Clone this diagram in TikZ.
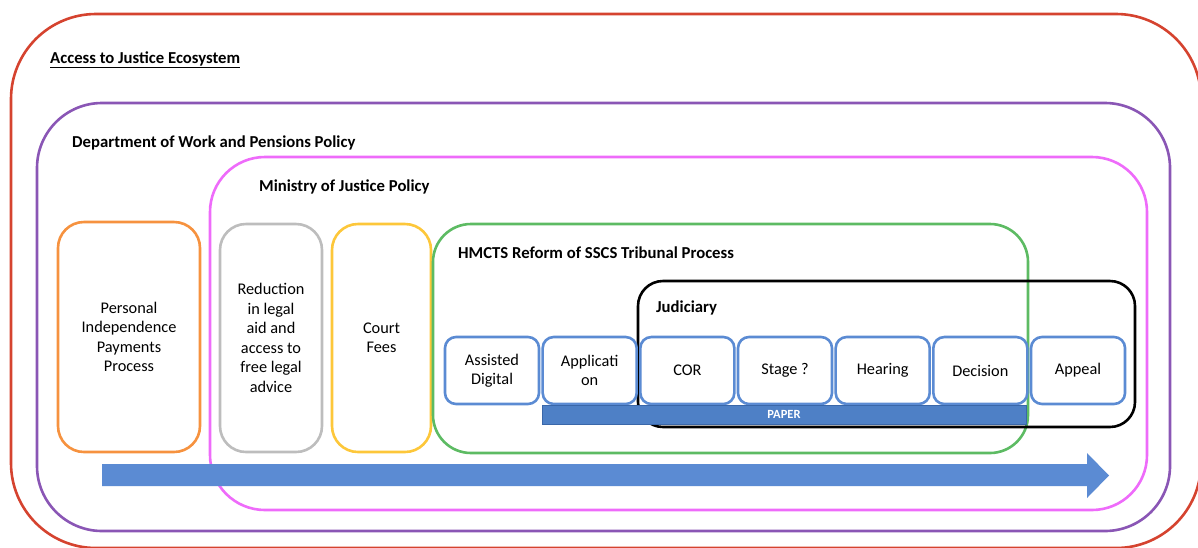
\documentclass[tikz,border=0pt]{standalone}
\usepackage{fontspec}
\setmainfont{Carlito}
\usetikzlibrary{positioning}
\definecolor{ecored}{HTML}{D5432F}
\definecolor{dwppurple}{HTML}{8A56B5}
\definecolor{mojpink}{HTML}{EE6BFA}
\definecolor{hmctsgreen}{HTML}{5DBB63}
\definecolor{piporange}{HTML}{F6923F}
\definecolor{aidgray}{HTML}{BDBDBD}
\definecolor{feeyellow}{HTML}{FDC73A}
\definecolor{stageblue}{HTML}{5B8BD3}
\definecolor{paperblue}{HTML}{4E80C6}
\definecolor{paperedge}{HTML}{3A67A9}
\begin{document}
\begin{tikzpicture}[x=1pt,y=-1pt,
  region/.style={draw,line width=2.6pt,rounded corners=#1,inner sep=0pt},
  sized/.style 2 args={minimum width=#1,minimum height=#2},
  title node/.style={anchor=base west,inner sep=0pt,font=\fontsize{16.7}{20}\selectfont\bfseries},
  label node/.style={region=26pt,align=center,fill=white,font=\fontsize{16.3}{19.5}\selectfont},
  stage node/.style={draw=stageblue,line width=2.6pt,rounded corners=11pt,fill=white,align=center,
    minimum width=94pt,minimum height=67pt,inner sep=0pt,font=\fontsize{16.3}{19.5}\selectfont}]
  \useasboundingbox (0,0) rectangle (1198,547);

  % nested policy areas
  \node[region=85pt,draw=ecored,sized={1190pt}{534pt}] at (606,281) (ecosystem) {};
  \node[region=65pt,draw=dwppurple,sized={1133pt}{428pt}] at (603.5,317) (dwp) {};
  \node[region=55pt,draw=mojpink,sized={937pt}{353pt}] at (678.5,333.5) (moj) {};

  % time line
  \fill[stageblue] (102,464) -- (1087,464) -- (1087,453) -- (1109,475.5)
    -- (1087,498) -- (1087,486) -- (102,486) -- cycle;

  \node[label node,draw=piporange,sized={142pt}{230pt}] at (129,337) (pip) {Personal\\Independence\\Payments\\Process};
  \node[label node,draw=aidgray,sized={102pt}{228pt}] at (271,338) (aid) {Reduction\\in legal\\aid and\\access to\\free legal\\advice};
  \node[label node,draw=feeyellow,sized={99pt}{228pt}] at (381.5,338) (fees) {Court\\Fees};

  \node[region=38pt,draw=hmctsgreen,sized={595pt}{229pt}] at (730.5,338.5) (hmcts) {};
  \node[region=25pt,draw=black,sized={497pt}{146pt}] at (886.5,354) (judiciary) {};

  \node[title node] at (50,63) (ecotitle) {\underline{Access to Justice Ecosystem}};
  \node[title node] at (72,147) (dwptitle) {Department of Work and Pensions Policy};
  \node[title node] at (259,191) (mojtitle) {Ministry of Justice Policy};
  \node[title node] at (458,258) (hmctstitle) {HMCTS Reform of SSCS Tribunal Process};
  \node[title node] at (656,312) (judtitle) {Judiciary};

  % tribunal stages
  \foreach \name/\text [count=\i from 0] in {digital/{Assisted\\Digital},application/{Applicati\\on},
      cor/COR,stage/{Stage ?},hearing/Hearing,decision/Decision,appeal/Appeal}
    \node[stage node] at (492+97.67*\i,370.5) (\name) {\text};

  \node[fill=paperblue,draw=paperedge,line width=1pt,inner sep=0pt,sized={484pt}{19pt},
    text=white,font=\fontsize{12.5}{13}\selectfont\bfseries] at (784,414.5) (paper) {PAPER};
\end{tikzpicture}
\end{document}
